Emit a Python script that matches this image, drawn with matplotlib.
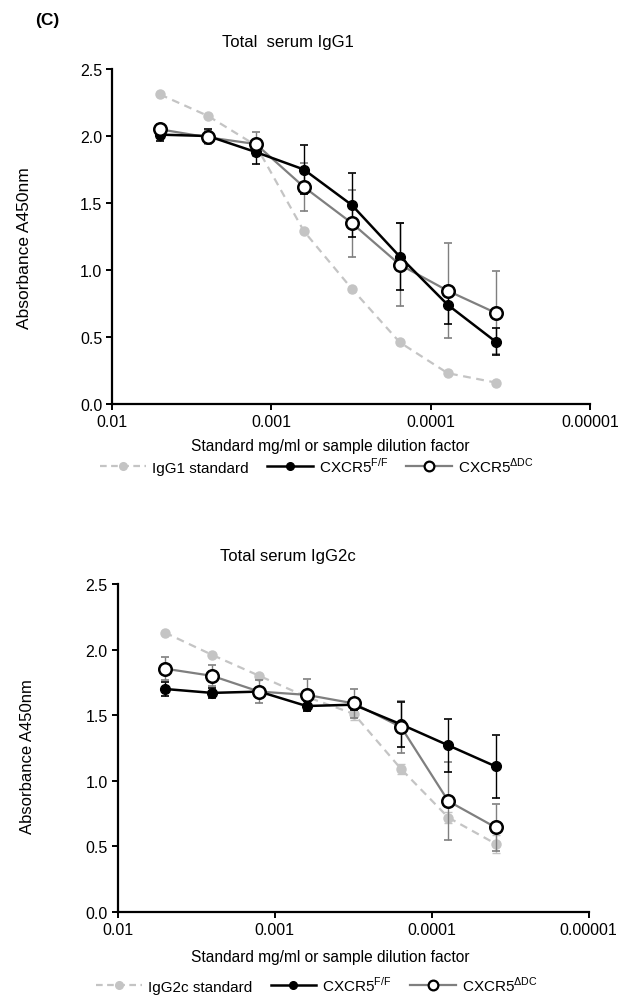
import matplotlib
matplotlib.use("Agg")
import matplotlib.pyplot as plt
from matplotlib.lines import Line2D
import numpy as np

plt.rcParams['font.family'] = ['Liberation Sans', 'DejaVu Sans']

# x: standard concentration (mg/ml) or sample dilution factor
dilution = [0.005, 0.0025, 0.00125, 0.000625, 0.0003125, 0.00015625, 7.8125e-5, 3.90625e-5]

# Panel 1: Total serum IgG1
igg1_standard = [2.31, 2.15, 1.93, 1.29, 0.86, 0.46, 0.23, 0.16]
igg1_ff = [2.01, 2.00, 1.88, 1.75, 1.485, 1.10, 0.74, 0.465]
igg1_ff_err = [0.05, 0.05, 0.09, 0.18, 0.24, 0.25, 0.14, 0.10]
igg1_ddc = [2.05, 1.99, 1.94, 1.62, 1.35, 1.04, 0.845, 0.68]
igg1_ddc_err = [0.04, 0.05, 0.09, 0.18, 0.25, 0.31, 0.355, 0.31]

# Panel 2: Total serum IgG2c
igg2c_standard = [2.13, 1.96, 1.80, 1.64, 1.51, 1.09, 0.72, 0.52]
igg2c_standard_err = [0, 0, 0, 0, 0.05, 0.04, 0.04, 0.07]
igg2c_ff = [1.70, 1.67, 1.68, 1.57, 1.58, 1.43, 1.27, 1.11]
igg2c_ff_err = [0.055, 0.04, 0.03, 0.04, 0.04, 0.17, 0.20, 0.24]
igg2c_ddc = [1.855, 1.80, 1.68, 1.655, 1.59, 1.41, 0.845, 0.645]
igg2c_ddc_err = [0.09, 0.08, 0.085, 0.12, 0.11, 0.20, 0.30, 0.18]

yticks = [0.0, 0.5, 1.0, 1.5, 2.0, 2.5]
xticks = [0.01, 0.001, 0.0001, 0.00001]
xticklabels = ['0.01', '0.001', '0.0001', '0.00001']

STD_C = '#c4c4c4'
DDC_C = '#7f7f7f'

W, H = 634, 1003
fig = plt.figure(figsize=(W/100, H/100), dpi=100)

fig.text(35/W, 1 - 21/H, '(C)', fontsize=12.5, fontweight='bold', va='center', ha='left')


def panel(rect, title, title_y, std, std_err, ff, ff_err, ddc, ddc_err, std_label,
          xlabel_y, legend_y, ylabel_pos, ylabel_size):
    ax = fig.add_axes(rect)
    ax.set_xscale('log')
    ax.set_xlim(0.01, 0.00001)
    ax.set_ylim(0, 2.5)
    # standard
    ax.errorbar(dilution, std, yerr=std_err, color=STD_C, ls=(0, (3.5, 2.5)), lw=1.6,
                marker='o', ms=6.5, mfc=STD_C, mec=STD_C, capsize=3, elinewidth=1.0,
                capthick=1.0, ecolor=STD_C, zorder=2)
    # dDC
    ax.errorbar(dilution, ddc, yerr=ddc_err, color=DDC_C, lw=1.6, ls='-',
                marker=None, capsize=3, elinewidth=1.0, capthick=1.2,
                ecolor=DDC_C, zorder=3)
    # FF
    ax.errorbar(dilution, ff, yerr=ff_err, color='black', lw=1.8, ls='-',
                marker='o', ms=7, mfc='black', mec='black', capsize=3,
                elinewidth=1.0, capthick=1.2, ecolor='black', zorder=4)
    ax.plot(dilution, ddc, ls='none', marker='o', ms=9, mfc='white', mec='black',
            mew=1.8, zorder=5)
    ax.spines['top'].set_visible(False)
    ax.spines['right'].set_visible(False)
    ax.spines['left'].set_linewidth(1.6)
    ax.spines['bottom'].set_linewidth(1.6)
    ax.set_yticks(yticks)
    ax.set_yticklabels([f'{v:.1f}' for v in yticks])
    ax.set_xticks(xticks)
    ax.set_xticklabels(xticklabels)
    ax.xaxis.set_minor_locator(matplotlib.ticker.NullLocator())
    ax.tick_params(axis='both', direction='out', length=4, width=1.4, labelsize=11.5,
                   colors='black', pad=3)
    fig.text(288/W, 1 - title_y/H, title, fontsize=12, ha='center', va='center')
    fig.text(330/W, 1 - xlabel_y/H, 'Standard mg/ml or sample dilution factor',
             fontsize=11.2, ha='center', va='center')
    fig.text(ylabel_pos[0]/W, 1 - ylabel_pos[1]/H, 'Absorbance A450nm',
             fontsize=ylabel_size, rotation=90, ha='center', va='center')

    handles = [
        Line2D([], [], color=STD_C, ls=(0, (3, 2)), lw=1.6, marker='o', ms=5.5,
               mfc=STD_C, mec=STD_C),
        Line2D([], [], color='black', lw=1.8, marker='o', ms=5.5, mfc='black', mec='black'),
        Line2D([], [], color=DDC_C, lw=1.6, marker='o', ms=7, mfc='white', mec='black',
               mew=1.6),
    ]
    labels = [std_label, r'CXCR5$^{\mathregular{F/F}}$', r'CXCR5$^{\mathregular{\Delta DC}}$']
    fig.legend(handles, labels, loc='center', bbox_to_anchor=(0.5, 1 - legend_y/H), ncol=3,
               frameon=False, fontsize=11, handlelength=3.0, columnspacing=1.2,
               handletextpad=0.4)
    return ax


panel([112/W, 1 - 405/H, 478/W, 335/H], 'Total  serum IgG1', 42,
      igg1_standard, [0]*8, igg1_ff, igg1_ff_err, igg1_ddc, igg1_ddc_err,
      'IgG1 standard', 447, 466, (25, 248), 12.5)

panel([117.5/W, 1 - 913/H, 471/W, 328/H], 'Total serum IgG2c', 557,
      igg2c_standard, igg2c_standard_err, igg2c_ff, igg2c_ff_err, igg2c_ddc, igg2c_ddc_err,
      'IgG2c standard', 958, 985, (28, 757), 12)

fig.savefig('out.png', dpi=100)
